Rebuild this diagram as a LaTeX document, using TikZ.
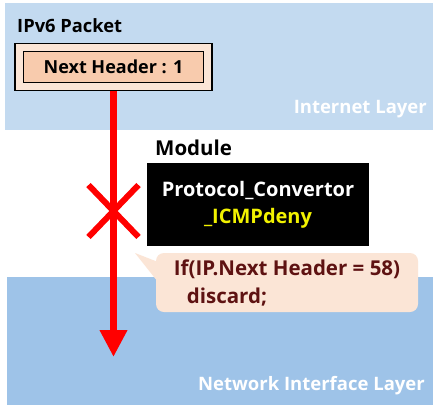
\documentclass[tikz,border=0pt]{standalone}
\usepackage{fontspec}
\setmainfont{Open Sans}
\usetikzlibrary{arrows.meta}

\definecolor{inetblue}{HTML}{C3DAF0}
\definecolor{netblue}{HTML}{9EC3E8}
\definecolor{peach}{HTML}{F8CBAD}
\definecolor{peachlight}{HTML}{FBE5D6}
\definecolor{denyyellow}{HTML}{F2F200}
\definecolor{codered}{HTML}{5E1212}

\tikzset{
  layer/.style={text=white, font=\fontsize{18.5}{22}\selectfont\bfseries, inner sep=0pt},
  label/.style={font=\fontsize{18.3}{21}\selectfont\bfseries, inner sep=0pt},
  redarrow/.style={color=red, line width=7pt, -{Triangle[width=26pt,length=27pt]}},
}

\begin{document}
\begin{tikzpicture}[x=1pt,y=-1pt]
\useasboundingbox (0,0) rectangle (438,407);
\fill[white] (0,0) rectangle (438,407);

% layers
\fill[inetblue] (5,3) rectangle (433,130);
\fill[netblue] (7,277) rectangle (433,405);
\node[layer, anchor=east] (inet) at (427,109) {Internet Layer};
\node[layer, anchor=east] (nil) at (425,386) {Network Interface Layer};

% packet
\node[label, anchor=west] (pkt) at (17,26) {IPv6 Packet};
\node[draw, line width=1.6pt, fill=peachlight, minimum width=197, minimum height=47] (outer) at (113.5,67) {};
\node[label, font=\fontsize{18}{21}\selectfont\bfseries, draw, line width=1.6pt, fill=peach, minimum width=180, minimum height=31] (nh) at (113.5,67) {Next Header : 1};

% flow
\coordinate (sink) at (113.5,357);
\draw[redarrow] (outer.south) -- (sink);
\coordinate (cross) at (113.5,211);
\draw[red, line width=6pt] ([shift={(-25,-26)}]cross) -- ([shift={(25,26)}]cross);
\draw[red, line width=6pt] ([shift={(-25,26)}]cross) -- ([shift={(25,-26)}]cross);

% module
\node[label, font=\fontsize{20.5}{24}\selectfont\bfseries, anchor=west] (mod) at (155,148) {Module};
\node[label, font=\fontsize{20}{27}\selectfont\bfseries, fill=black, text=white, align=center, minimum width=222, minimum height=83] (conv) at (258,204.5)
  {Protocol\_Convertor\\\textcolor{denyyellow}{\_ICMPdeny}};

% rule bubble
\fill[peachlight] (135,253) -- (158,262) -- (158,282) -- cycle;
\node[label, font=\fontsize{20.5}{28}\selectfont\bfseries, fill=peachlight, text=codered, rounded corners=8pt, align=left, minimum width=262, minimum height=59] (rule) at (287,282.5)
  {If(IP.Next Header = 58)\\\hspace{13pt}discard;};
\end{tikzpicture}
\end{document}
